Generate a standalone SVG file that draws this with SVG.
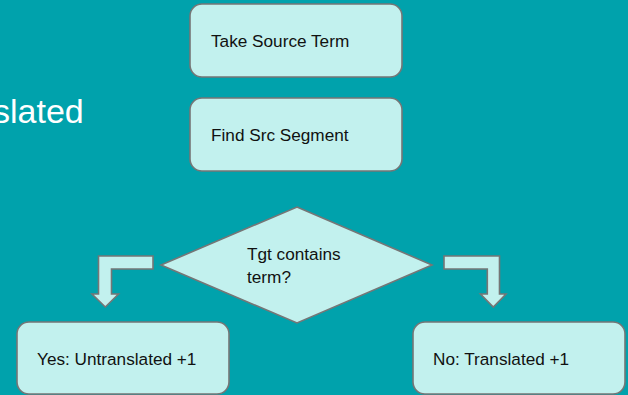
<svg xmlns="http://www.w3.org/2000/svg" width="628" height="395" viewBox="0 0 628 395">
<style>
.node{fill:#C2F1EE;stroke:#767676;stroke-width:1.6}
.lbl{font-family:"Liberation Sans",Arial,sans-serif;font-size:17.2px;fill:#111111}
.arrow{fill:#C2F1EE;stroke:#767676;stroke-width:1.6;stroke-linejoin:miter}
</style>
<rect x="0" y="0" width="628" height="395" fill="#00A2AC"/>
<text x="-7" y="123" font-family="Liberation Sans,Arial,sans-serif" font-size="34" fill="#FFFFFF">slated</text>
<g id="connectors">
<polygon class="arrow" points="153,256 98.5,256 98.5,294 92,294 105.3,307 118.5,294 111.5,294 111.5,269 153,269"/>
<polygon class="arrow" points="444,256 499.5,256 499.5,294 506,294 493.3,307 480.5,294 487.3,294 487.3,269 444,269"/>
</g>
<g id="take-source-term">
<rect class="node" x="190" y="4" width="212" height="73" rx="12"/>
<text class="lbl" x="211" y="47">Take Source Term</text>
</g>
<g id="find-src-segment">
<rect class="node" x="190" y="98" width="212" height="73" rx="12"/>
<text class="lbl" x="211" y="141">Find Src Segment</text>
</g>
<g id="tgt-contains-term">
<polygon class="node" points="297,207 432,265 297,323 161,265"/>
<text class="lbl" x="247" y="260">Tgt contains</text>
<text class="lbl" x="247" y="283">term?</text>
</g>
<g id="yes-untranslated">
<rect class="node" x="17" y="322" width="212" height="72" rx="12"/>
<text class="lbl" x="37" y="365">Yes: Untranslated +1</text>
</g>
<g id="no-translated">
<rect class="node" x="413" y="322" width="212" height="72" rx="12"/>
<text class="lbl" x="433" y="365">No: Translated +1</text>
</g>
</svg>
